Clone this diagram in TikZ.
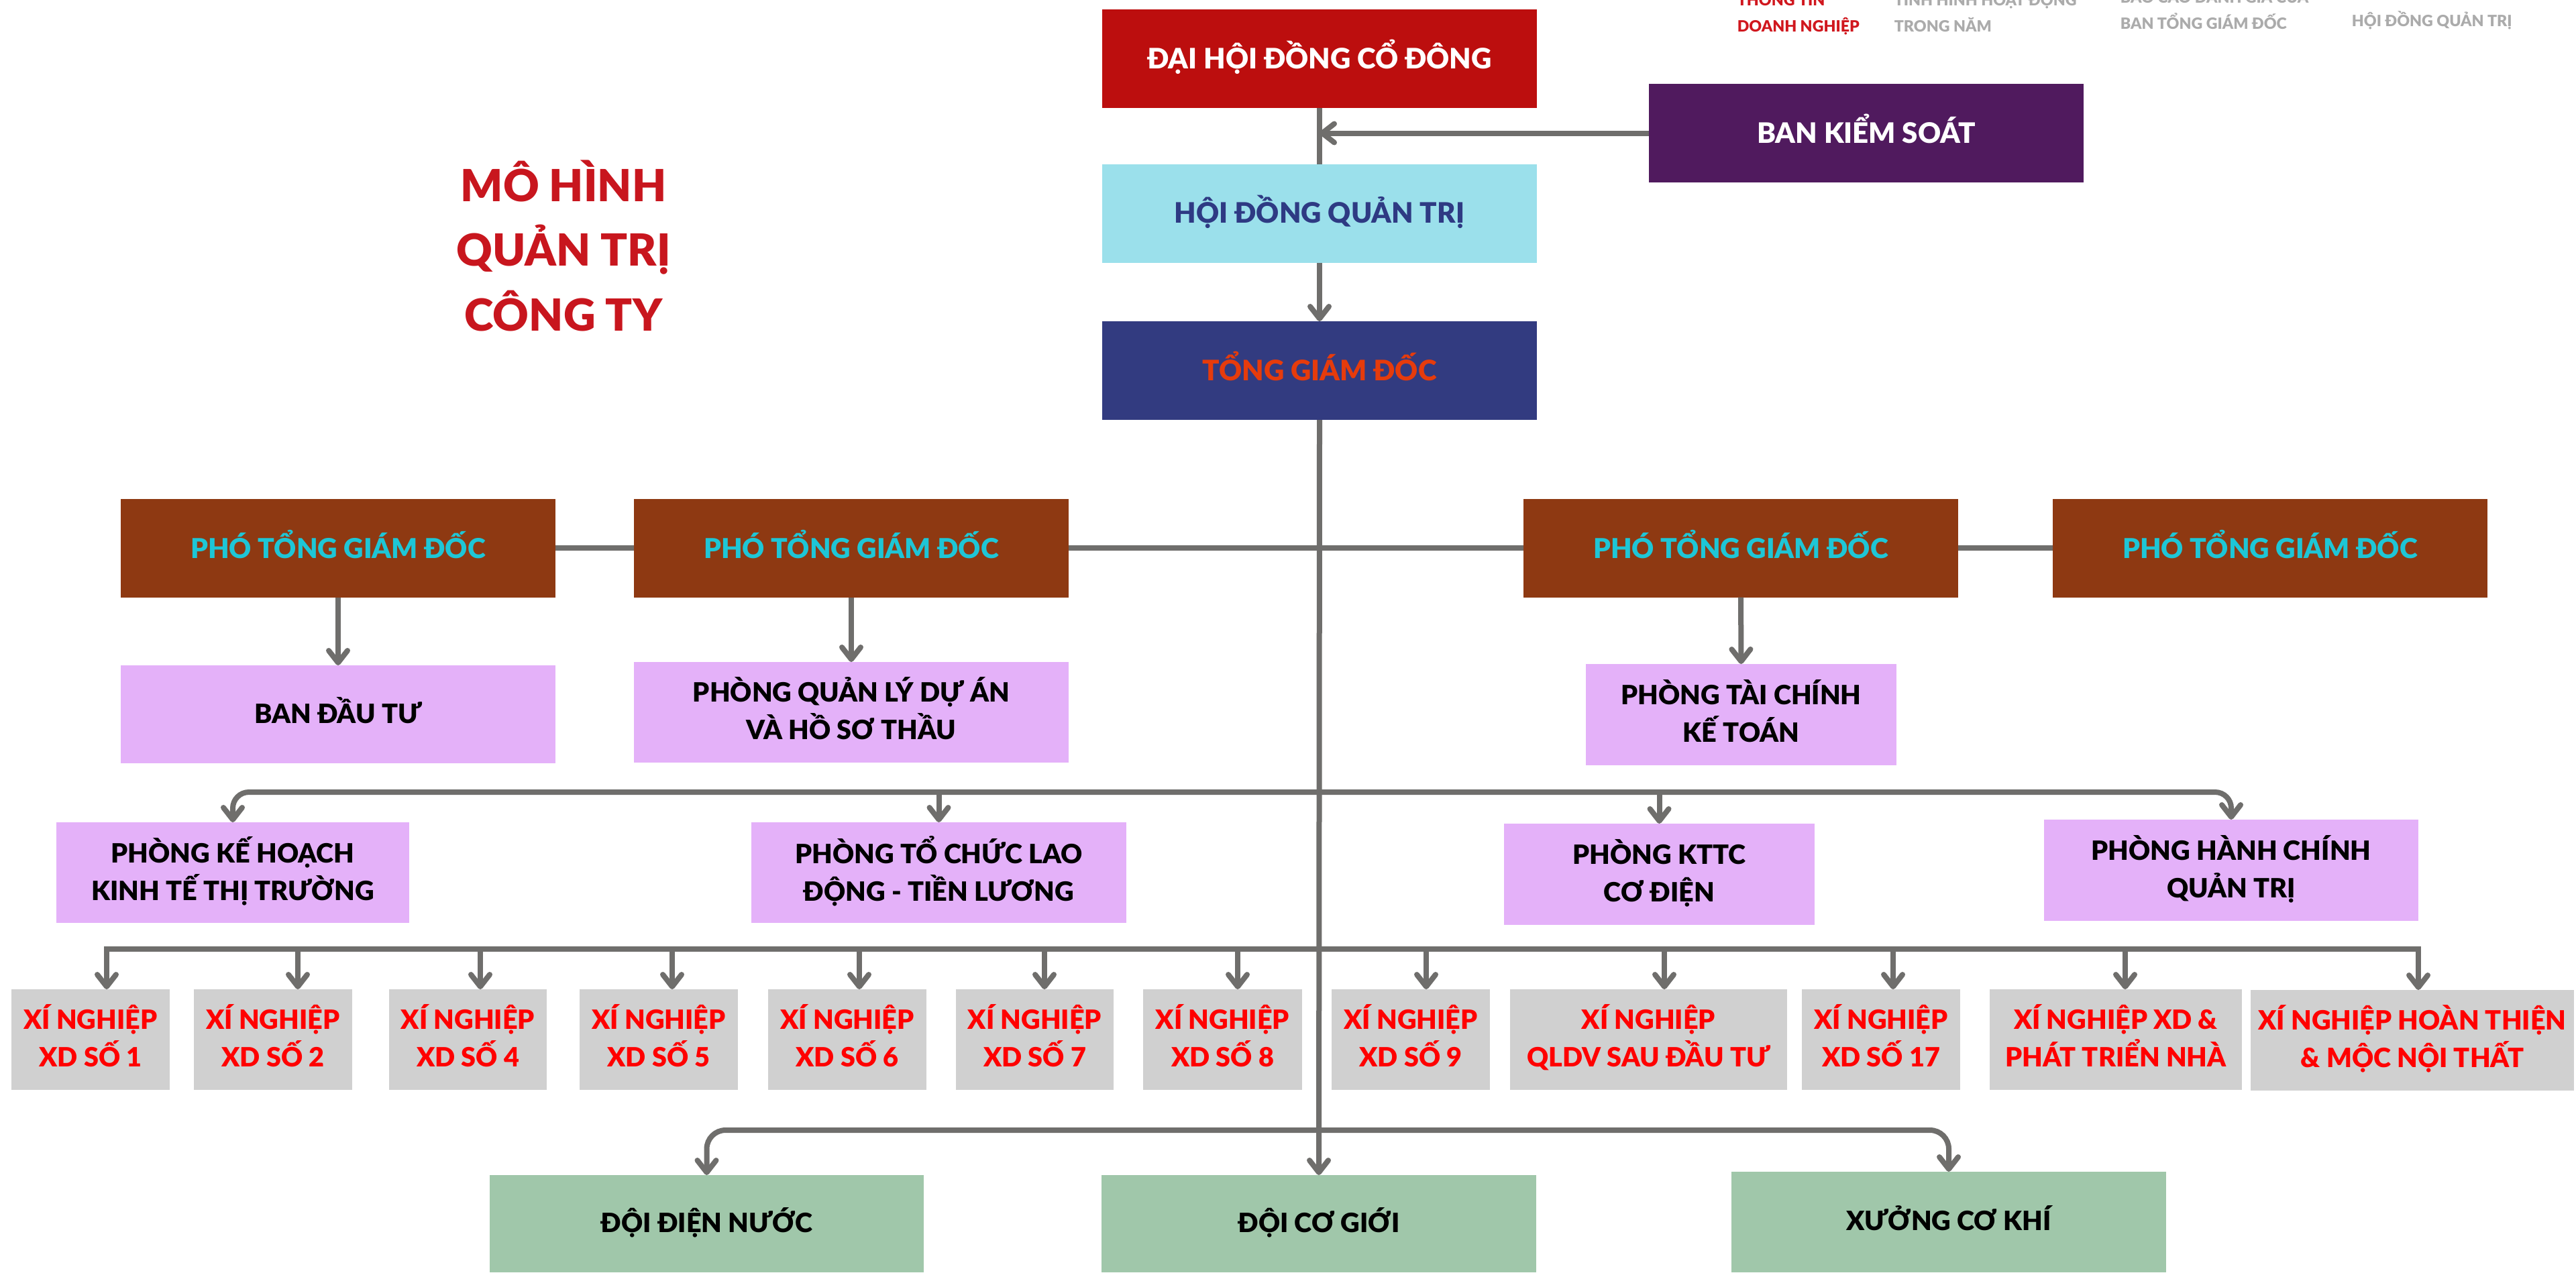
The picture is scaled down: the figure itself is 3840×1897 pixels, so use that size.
\documentclass[tikz,border=0pt]{standalone}
\usepackage{fontspec}
\setmainfont{Lato}[BoldFont={Lato Black}]
\usetikzlibrary{arrows.meta}
\definecolor{cDH}{HTML}{BC0E0E}
\definecolor{cHQ}{HTML}{9BE0EB}
\definecolor{cHQt}{HTML}{2E3A83}
\definecolor{cTG}{HTML}{323B80}
\definecolor{cTGt}{HTML}{E63B0C}
\definecolor{cBK}{HTML}{501A5E}
\definecolor{cPG}{HTML}{8E3912}
\definecolor{cPGt}{HTML}{1EC6D6}
\definecolor{cPH}{HTML}{E4B1F9}
\definecolor{cXN}{HTML}{D0D0D0}
\definecolor{cXNt}{HTML}{FF0000}
\definecolor{cDO}{HTML}{A0C7AA}
\definecolor{cLine}{HTML}{6F6E6C}
\definecolor{cTitle}{HTML}{C8161E}
\definecolor{cNavR}{HTML}{D0171E}
\definecolor{cNavG}{HTML}{ABABAB}
\newcommand\myfA{\fontsize{10.5pt}{14pt}\selectfont\bfseries}
\newcommand\myfB{\fontsize{10.2pt}{14pt}\selectfont\bfseries}
\newcommand\myfP{\fontsize{9.9pt}{14pt}\selectfont\bfseries}
\newcommand\myfC{\fontsize{9.9pt}{14pt}\selectfont\bfseries}
\newcommand\myfT{\fontsize{16.5pt}{24.2pt}\selectfont\bfseries}
\newcommand\myfN{\fontsize{5.8pt}{8pt}\selectfont\bfseries}
\newcommand\mystrut{\rule[-0.3em]{0pt}{1.0165em}}
\begin{document}
\begin{tikzpicture}[x=0.25pt,y=-0.25pt,
  >={Straight Barb[round,length=4.5pt,width=7pt]},
  box/.style={rectangle,inner sep=0pt,outer sep=0pt,align=center,
    execute at begin node=\mystrut,execute at end node=\mystrut},
  bw/.style={minimum width=#1*0.25pt},
  bh/.style={minimum height=#1*0.25pt},
  main/.style={box,bw=648,bh=147,font=\myfA},
  pgd/.style={box,bw=648,bh=147,fill=cPG,text=cPGt,font=\myfB},
  phong/.style={box,fill=cPH,text=black,font=\myfP},
  xn/.style={box,bh=150,fill=cXN,text=cXNt,font=\myfC},
  doi/.style={box,fill=cDO,text=black,font=\myfC},
  nav/.style={inner sep=0pt,anchor=base west,font=\myfN},
  ln/.style={draw=cLine,line width=2pt}]
\useasboundingbox (0,0) rectangle (3840,1897);
\clip (0,0) rectangle (3840,1897);

% header navigation
\node[nav,text=cNavR] (n1a) at (2589,8) {THÔNG TIN};
\node[nav,text=cNavR] (n1b) at (2589,47) {DOANH NGHIỆP};
\node[nav,text=cNavG] (n2a) at (2823,8) {TÌNH HÌNH HOẠT ĐỘNG};
\node[nav,text=cNavG] (n2b) at (2823,47) {TRONG NĂM};
\node[nav,text=cNavG] (n3a) at (3160,4) {BÁO CÁO ĐÁNH GIÁ CỦA};
\node[nav,text=cNavG] (n3b) at (3160,43) {BAN TỔNG GIÁM ĐỐC};
\node[nav,text=cNavG] (n4) at (3505,39) {HỘI ĐỒNG QUẢN TRỊ};

% title
\node[box,text=cTitle,font=\myfT] (title) at (840,376) {MÔ HÌNH\\QUẢN TRỊ\\CÔNG TY};

% top chain
\node[main,fill=cDH,text=white] (dh) at (1967,87.5) {ĐẠI HỘI ĐỒNG CỔ ĐÔNG};
\node[main,fill=cHQ,text=cHQt] (hq) at (1967,318.5) {HỘI ĐỒNG QUẢN TRỊ};
\node[main,fill=cTG,text=cTGt] (tg) at (1967,552.5) {TỔNG GIÁM ĐỐC};
\node[main,fill=cBK,text=white] (bk) at (2782,198.5) {BAN KIỂM SOÁT};

% deputy directors
\node[pgd] (p1) at (504,817) {PHÓ TỔNG GIÁM ĐỐC};
\node[pgd] (p2) at (1269,817) {PHÓ TỔNG GIÁM ĐỐC};
\node[pgd] (p3) at (2595,817) {PHÓ TỔNG GIÁM ĐỐC};
\node[pgd] (p4) at (3384,817) {PHÓ TỔNG GIÁM ĐỐC};

% departments under deputies
\node[phong,bw=648,bh=146] (bd) at (504,1065) {BAN ĐẦU TƯ};
\node[phong,bw=648,bh=150] (qd) at (1269,1062) {PHÒNG QUẢN LÝ DỰ ÁN\\VÀ HỒ SƠ THẦU};
\node[phong,bw=463,bh=151] (tk) at (2595.5,1065.5) {PHÒNG TÀI CHÍNH\\KẾ TOÁN};

% departments row
\node[phong,bw=526,bh=150] (kh) at (347,1301) {PHÒNG KẾ HOẠCH\\KINH TẾ THỊ TRƯỜNG};
\node[phong,bw=559,bh=150] (tc) at (1399.5,1301) {PHÒNG TỔ CHỨC LAO\\ĐỘNG - TIỀN LƯƠNG};
\node[phong,bw=463,bh=151] (kt) at (2473.5,1303.5) {PHÒNG KTTC\\CƠ ĐIỆN};
\node[phong,bw=558,bh=151] (hc) at (3326,1297.5) {PHÒNG HÀNH CHÍNH\\QUẢN TRỊ};

% enterprises
\node[xn,bw=236] (x1) at (135,1550) {XÍ NGHIỆP\\XD SỐ 1};
\node[xn,bw=236] (x2) at (407,1550) {XÍ NGHIỆP\\XD SỐ 2};
\node[xn,bw=235] (x3) at (697.5,1550) {XÍ NGHIỆP\\XD SỐ 4};
\node[xn,bw=236] (x4) at (982,1550) {XÍ NGHIỆP\\XD SỐ 5};
\node[xn,bw=236] (x5) at (1263,1550) {XÍ NGHIỆP\\XD SỐ 6};
\node[xn,bw=235] (x6) at (1542.5,1550) {XÍ NGHIỆP\\XD SỐ 7};
\node[xn,bw=237] (x7) at (1822.5,1550) {XÍ NGHIỆP\\XD SỐ 8};
\node[xn,bw=236] (x8) at (2103,1550) {XÍ NGHIỆP\\XD SỐ 9};
\node[xn,bw=413] (x9) at (2457.5,1550) {XÍ NGHIỆP\\QLDV SAU ĐẦU TƯ};
\node[xn,bw=236] (x10) at (2804,1550) {XÍ NGHIỆP\\XD SỐ 17};
\node[xn,bw=376] (x11) at (3154,1550) {XÍ NGHIỆP XD \&\\PHÁT TRIỂN NHÀ};
\node[xn,bw=482] (x12) at (3596,1551) {XÍ NGHIỆP HOÀN THIỆN\\\& MỘC NỘI THẤT};

% teams
\node[doi,bw=647,bh=145] (dn) at (1053.5,1824.5) {ĐỘI ĐIỆN NƯỚC};
\node[doi,bw=648,bh=145] (cg) at (1966,1824.5) {ĐỘI CƠ GIỚI};
\node[doi,bw=648,bh=150] (ck) at (2905,1822) {XƯỞNG CƠ KHÍ};

% connectors: top chain
\draw[ln] (dh.south) -- (hq.north);
\draw[ln,->] (hq.south) -- (tg.north);
\draw[ln,->] (bk.west) -- (bk.west -| dh.south);
\draw[ln,->] (tg.south) -- (cg.north);

% deputies
\draw[ln] (p1.east) -- (p2.west);
\draw[ln] (p2.east) -- (p3.west);
\draw[ln] (p3.east) -- (p4.west);
\draw[ln,->] (p1.south) -- (bd.north);
\draw[ln,->] (p2.south) -- (qd.north);
\draw[ln,->] (p3.south) -- (tk.north);

% department bus
\coordinate (b2) at (1967,1181);
\draw[ln,<->,rounded corners=6pt] (kh.north) |- (b2) -| (hc.north);
\draw[ln,->] (b2 -| tc.north) -- (tc.north);
\draw[ln,->] (b2 -| kt.north) -- (kt.north);

% enterprise bus
\coordinate (t1) at (159,1415);
\coordinate (t2) at (444,1415);
\coordinate (t3) at (716,1415);
\coordinate (t4) at (1002,1415);
\coordinate (t5) at (1281,1415);
\coordinate (t6) at (1557,1415);
\coordinate (t7) at (1845,1415);
\coordinate (t8) at (2126,1415);
\coordinate (t9) at (2481,1415);
\coordinate (t10) at (2822,1415);
\coordinate (t11) at (3168,1415);
\coordinate (t12) at (3605,1415);
\draw[ln,<->] (t1 |- x1.north) -- (t1) -- (t12) -- (t12 |- x12.north);
\foreach \i in {2,...,11} { \draw[ln,->] (t\i) -- (t\i |- x\i.north); }

% team bus
\coordinate (b4) at (1967,1685);
\draw[ln,<->,rounded corners=7pt] (dn.north) |- (b4) -| (ck.north);
\end{tikzpicture}
\end{document}
